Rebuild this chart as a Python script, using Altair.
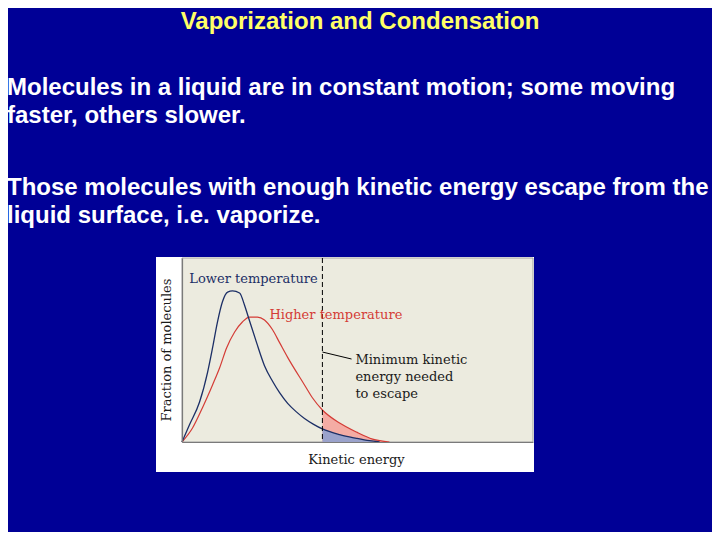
import altair as alt
import pandas as pd

# ---- data (x: kinetic energy 0-100, y: fraction 0-100) ----
energy_low = [0, 2.1, 5.0, 7.3, 8.7, 10.1, 11.5, 13.0, 14.4, 16.4, 17.8, 18.9, 21.2,
              23.5, 25.8, 27.8, 30.1, 32.5, 34.9, 37.5, 40.0, 44.9, 49.7, 53.4, 56.3]
frac_low = [0, 9.2, 21.7, 38.0, 51.1, 65.2, 76.1, 81.5, 82.1, 81.0, 74.5, 67.9, 54.3,
            41.5, 33.0, 26.8, 21.0, 16.5, 12.8, 9.6, 7.1, 4.0, 2.0, 0.7, 0]

energy_high = [0, 3.0, 5.8, 8.7, 10.7, 12.7, 15.0, 17.2, 19.2, 21.5, 23.5, 25.8, 27.8,
               30.1, 34.9, 37.2, 40.0, 44.9, 49.7, 54.3, 59.1]
frac_high = [0, 7.6, 18.5, 31.0, 40.2, 51.1, 59.8, 65.2, 67.9, 67.9, 66.3, 61.0, 54.0,
             46.0, 31.0, 23.9, 17.4, 10.3, 5.4, 1.6, 0]

threshold = 40

title_text = "Vaporization and Condensation"
body_lines = [
    "Molecules in a liquid are in constant motion; some moving",
    "faster, others slower.",
    "Those molecules with enough kinetic energy escape from the",
    "liquid surface, i.e. vaporize.",
]
note_lines = ["Minimum kinetic", "energy needed", "to escape"]

low = pd.DataFrame({"energy": energy_low, "frac": frac_low})
high = pd.DataFrame({"energy": energy_high, "frac": frac_high})
one = pd.DataFrame({"k": [0]})

W, H = 351, 184
SERIF = "DejaVu Serif"
SANS = "Liberation Sans"
NAVY = "#1c2f66"
RED = "#d43c36"

xs = alt.Scale(domain=[0, 100], nice=False, zero=False)
ys = alt.Scale(domain=[0, 100], nice=False, zero=False)
xax = alt.Axis(labels=False, ticks=False, grid=False, title=None,
               domainColor="#7a7a7a", domainWidth=1.2, zindex=1)
yax = alt.Axis(labels=False, ticks=False, grid=False, title=None,
               domainColor="#7a7a7a", domainWidth=1.2, zindex=1)

X = alt.X("energy:Q", scale=xs, axis=xax)
Y = alt.Y("frac:Q", scale=ys, axis=yax)

white_box = alt.Chart(one).mark_rect(fill="white").encode(
    x=alt.value(-26), x2=alt.value(352), y=alt.value(-1), y2=alt.value(214))
beige_box = alt.Chart(one).mark_rect(fill="#ecebdf", stroke="#a0a0a0", strokeWidth=1).encode(
    x=alt.value(0), x2=alt.value(W), y=alt.value(0), y2=alt.value(H))

area_high = alt.Chart(high).transform_filter(alt.datum.energy >= threshold).mark_area(
    color="#f4aca4", interpolate="monotone", opacity=1).encode(x=X, y=Y)
area_low = alt.Chart(low).transform_filter(alt.datum.energy >= threshold).mark_area(
    color="#9aa2cb", interpolate="monotone", opacity=1).encode(x=X, y=Y)

line_high = alt.Chart(high).mark_line(color=RED, strokeWidth=1.2, interpolate="monotone").encode(x=X, y=Y)
line_low = alt.Chart(low).mark_line(color=NAVY, strokeWidth=1.3, interpolate="monotone").encode(x=X, y=Y)

dash = alt.Chart(one).mark_rule(color="black", strokeDash=[5, 3], strokeWidth=1).encode(
    x=alt.datum(threshold, scale=xs))
leader = alt.Chart(one).mark_rule(color="black", strokeWidth=1).encode(
    x=alt.datum(threshold), y=alt.datum(48.9), x2=alt.datum(48.3), y2=alt.datum(45.1))

def inset_text(txt, x, y, color="#1a1a1a", align="left", angle=0):
    return alt.Chart(one).mark_text(text=txt, font=SERIF, fontSize=13, color=color,
                                    align=align, baseline="middle", angle=angle).encode(
        x=alt.datum(x), y=alt.datum(y))

texts = [
    inset_text("Lower temperature", 2.1, 88.6, color=NAVY),
    inset_text("Higher temperature", 24.9, 69.0, color=RED),
    inset_text(note_lines[0], 49.4, 44.6),
    inset_text(note_lines[1], 49.4, 35.3),
    inset_text(note_lines[2], 49.4, 26.1),
    inset_text("Kinetic energy", 49.7, -9.8, align="center"),
    inset_text("Fraction of molecules", -4.4, 50, align="center", angle=270),
]

title = alt.Chart(one).mark_text(text=title_text, font=SANS, fontSize=24, fontWeight="bold",
                                 color="#ffff66", align="center", baseline="alphabetic").encode(
    x=alt.value(178), y=alt.value(-229))

body_baselines = [-163, -135, -63, -35]
body = [
    alt.Chart(one).mark_text(text=t, font=SANS, fontSize=24, fontWeight="bold",
                             color="white", align="left", baseline="alphabetic").encode(
        x=alt.value(-175), y=alt.value(b))
    for t, b in zip(body_lines, body_baselines)
]

chart = alt.layer(
    white_box, beige_box, area_high, area_low, line_high, line_low, dash, leader,
    *texts, title, *body
).properties(
    width=W, height=H,
    autosize=alt.AutoSizeParams(type="none"),
    padding={"left": 174, "top": 250, "right": 179, "bottom": 90},
    background="#000096",
).configure_view(strokeWidth=0)

chart.save("out.html", embed_options={"renderer": "svg", "actions": False})
